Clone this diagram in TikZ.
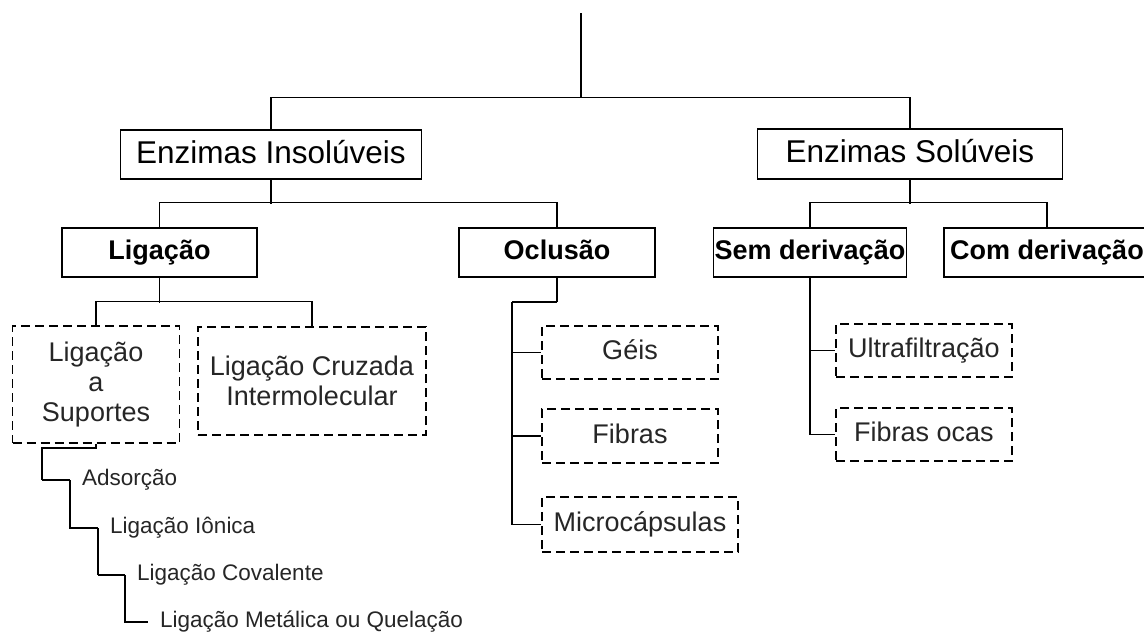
\documentclass[tikz,border=0pt]{standalone}
\usepackage{fontspec}
\setmainfont{Liberation Sans}
\usetikzlibrary{calc}
\begin{document}
\begin{tikzpicture}[x=1pt,y=-1pt,
  solidbox/.style={draw, line width=1.5pt, inner sep=0pt, align=center},
  bigbox/.style={solidbox, font=\fontsize{31.5}{34}\selectfont, text height=23pt, text depth=6pt},
  midbox/.style={solidbox, font=\bfseries\fontsize{27}{30}\selectfont, text height=20pt, text depth=5.5pt},
  dashbox/.style={draw, line width=1.3pt, dash pattern=on 9pt off 5pt, inner sep=0pt, align=center,
     text=black!85, font=\fontsize{27}{30}\selectfont},
  onebox/.style={dashbox, text height=20pt, text depth=5.5pt},
  leaf/.style={anchor=west, inner xsep=12pt, inner ysep=0pt, text=black!85, text height=16pt, text depth=4.5pt,
     font=\fontsize{22.5}{25}\selectfont},
  conn/.style={line width=1.3pt},
  boldconn/.style={line width=2.4pt}]
\path[use as bounding box, clip] (0,0) rectangle (1144,633);
\fill[white] (0,0) rectangle (1144,633);

\coordinate (top) at (581,13);
\node[bigbox, minimum width=301pt, minimum height=49pt] (ins) at (271,154.5) {Enzimas Insolúveis};
\node[bigbox, minimum width=305pt, minimum height=50pt] (sol) at (910,154) {Enzimas Solúveis};

\node[midbox, minimum width=195pt, minimum height=49pt] (lig) at (159.5,252.5) {Ligação};
\node[midbox, minimum width=196pt, minimum height=49pt] (ocl) at (557,252.5) {Oclusão};
\node[midbox, minimum width=193pt, minimum height=49pt] (sem) at (810,252.5) {Sem derivação};
\node[midbox, minimum width=206pt, minimum height=49pt] (com) at (1047,252.5) {Com derivação};

\node[dashbox, minimum width=167pt, minimum height=117pt] (sup) at (96,384.5) {Ligação\\a\\Suportes};
\node[dashbox, minimum width=228pt, minimum height=108pt] (cruz) at (312,381) {Ligação Cruzada\\Intermolecular};

\node[onebox, minimum width=176pt, minimum height=53pt] (geis) at (630,352.5) {Géis};
\node[onebox, minimum width=176pt, minimum height=54pt] (fib) at (630,436) {Fibras};
\node[onebox, minimum width=196pt, minimum height=55pt] (mic) at (640,524.5) {Microcápsulas};

\node[onebox, minimum width=176pt, minimum height=53pt] (ultra) at (924,350.5) {Ultrafiltração};
\node[onebox, minimum width=176pt, minimum height=53pt] (foc) at (924,434.5) {Fibras ocas};

\node[leaf] (ads) at (70,480) {Adsorção};
\node[leaf] (ion) at (98,528) {Ligação Iônica};
\node[leaf] (cov) at (125,575) {Ligação Covalente};
\node[leaf] (met) at (148,622) {Ligação Metálica ou Quelação};

% top level
\draw[conn] (top) -- ++(0,85);
\draw[conn] (ins.north) -- ++(0,-32) -| (sol.north);
% insoluveis
\draw[conn] (ins.south) -- ++(0,24);
\draw[conn] (lig.north) -- ++(0,-24.5) -| (ocl.north);
% soluveis
\draw[conn] (sol.south) -- ++(0,24);
\draw[conn] (sem.north) -- ++(0,-24.5) -| (com.north);
% ligacao
\draw[conn] (lig.south) -- ++(0,25);
\draw[conn] (sup.north) -- ++(0,-24) -| (cruz.north);
% staircase
\coordinate (st) at (42,448);
\draw[conn] (sup.south) |- (st) -- (st |- ads.west);
\draw[boldconn] (st |- ads.west) -- (ads.west);
\draw[conn] (ads.west) |- (ion.west);
\draw[conn] (ion.west) |- (ion.west |- cov.west);
\draw[boldconn] (ion.west |- cov.west) -- (cov.west);
\draw[conn] (cov.west) |- (met.west);
% oclusao
\coordinate (oc) at (512,302);
\draw[conn] (ocl.south) -- (ocl.south |- oc);
\draw[boldconn] (ocl.south |- oc) -- (oc);
\draw[conn] (oc) |- (geis.west);
\draw[conn] (oc) |- (fib.west);
\draw[conn] (oc) |- (mic.west);
% sem derivacao
\draw[conn] (sem.south) |- (ultra.west);
\draw[conn] (sem.south) |- (foc.west);
\end{tikzpicture}
\end{document}
